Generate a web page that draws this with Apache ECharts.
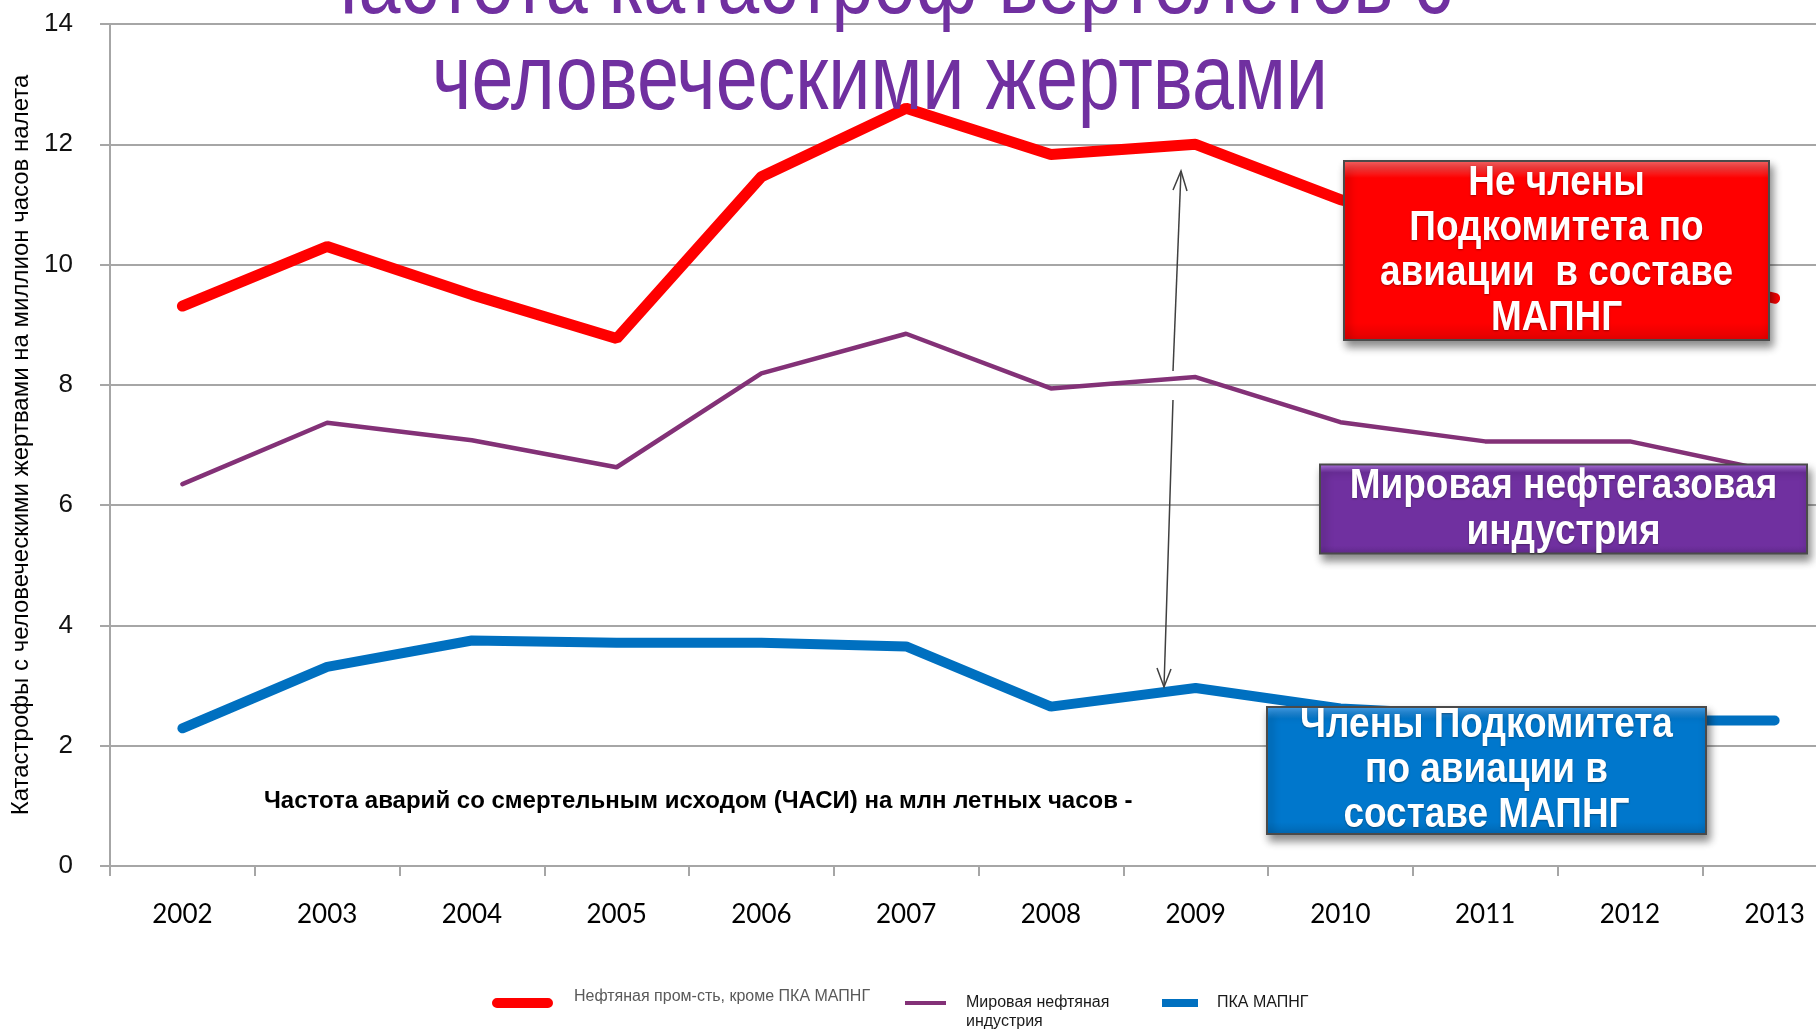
<!DOCTYPE html>
<html>
<head>
<meta charset="utf-8">
<title>Частота катастроф вертолетов</title>
<script src="https://cdn.jsdelivr.net/npm/echarts@6/dist/echarts.min.js"></script>
<style>
	html, body { margin: 0; padding: 0; background: #fff; }
	#chart { width: 1816px; height: 1032px; }
</style>
</head>
<body>
<div id="chart"></div>
<script>
/*данные*/
var years = ["2002", "2003", "2004", "2005", "2006", "2007", "2008", "2009", "2010", "2011", "2012", "2013"];
var yTicks = [0, 2, 4, 6, 8, 10, 12, 14];
var nonMembers = [9.31, 10.3, 9.5, 8.77, 11.46, 12.6, 11.83, 12.0, 11.08, 10.5, 10.0, 9.44];
var worldIndustry = [6.35, 7.37, 7.08, 6.63, 8.19, 8.85, 7.94, 8.13, 7.38, 7.06, 7.06, 6.55];
var members = [2.29, 3.31, 3.75, 3.71, 3.71, 3.65, 2.65, 2.96, 2.62, 2.5, 2.42, 2.42];
var seriesNames = ["Нефтяная пром-сть, кроме ПКА МАПНГ", "Мировая нефтяная\nиндустрия", "ПКА МАПНГ"];

var sans = "'Liberation Sans', Arial, sans-serif";

/*плашка с подписью*/
function labelBox(x, y, w, h, light, base, dark, text, lineH) {
	return {
		type: "group",
		left: x,
		top: y,
		z: 100,
		children: [{
			type: "rect",
			z: 100,
			shape: { x: 0, y: 0, width: w, height: h },
			style: {
				fill: {
					type: "linear", x: 0, y: 0, x2: 0, y2: 1,
					colorStops: [
						{ offset: 0, color: light },
						{ offset: 0.1, color: base },
						{ offset: 0.9, color: base },
						{ offset: 1, color: dark }
					]
				},
				stroke: "#4a4a4a",
				lineWidth: 2,
				shadowBlur: 8,
				shadowOffsetX: 3,
				shadowOffsetY: 6,
				shadowColor: "rgba(0,0,0,0.45)"
			}
		}, {
			type: "text",
			z: 101,
			x: w / 2,
			y: h / 2,
			scaleX: 0.88,
			style: {
				x: 0,
				y: 0,
				text: text,
				align: "center",
				verticalAlign: "middle",
				fill: "#fff",
				font: "bold 42px " + sans,
				lineHeight: lineH,
				textShadowColor: "rgba(0,0,0,0.35)",
				textShadowBlur: 2,
				textShadowOffsetY: 1
			}
		}]
	};
}

/*легенда: по одной на серию, значок со смещением внутри рамки*/
function legendItem(name, left, top, icon, w, h, color, padLeft, lineH) {
	return {
		data: [name],
		left: left,
		top: top,
		padding: 0,
		icon: icon,
		itemWidth: w,
		itemHeight: h,
		selectedMode: false,
		textStyle: {
			fontFamily: sans,
			fontSize: 16,
			color: color,
			padding: [0, 0, 0, padLeft],
			lineHeight: lineH
		}
	};
}

var chart = echarts.init(document.getElementById("chart"));
var option = {
	animation: false,
	backgroundColor: "#fff",
	grid: {
		left: 110,
		right: -31,
		top: 24,
		bottom: 166,
		containLabel: false,
		outerBoundsMode: "none"
	},
	legend: [
		legendItem(seriesNames[0], 492, 986, "path://M0,0L0.01,0M5,12L56,12A5,5 0 0 1 56,22L5,22A5,5 0 0 1 5,12Z", 61, 22, "#595959", 16, 20),
		legendItem(seriesNames[1], 905, 993, "path://M0,0L41,0L41,4L0,4ZM0,22L0.01,22", 41, 22, "#1a1a1a", 15, 19),
		legendItem(seriesNames[2], 1162, 993, "rect", 36, 8, "#1a1a1a", 14, 20)
	],
	xAxis: {
		type: "category",
		data: years,
		boundaryGap: true,
		axisLine: { lineStyle: { color: "#A6A6A6", width: 2 } },
		axisTick: { show: true, interval: 0, length: 10, lineStyle: { color: "#A6A6A6", width: 2 } },
		axisLabel: {
			fontFamily: "Lato, 'Open Sans', sans-serif",
			fontSize: 26,
			color: "#000",
			margin: 36,
			interval: 0
		}
	},
	yAxis: {
		type: "value",
		min: yTicks[0],
		max: yTicks[yTicks.length - 1],
		interval: 2,
		name: "Катастрофы с человеческими жертвами на миллион часов налета",
		nameLocation: "middle",
		nameRotate: 90,
		nameGap: 77,
		nameTextStyle: { fontFamily: sans, fontSize: 24, color: "#000" },
		axisLine: { show: true, lineStyle: { color: "#A6A6A6", width: 2 } },
		axisTick: { show: true, length: 10, lineStyle: { color: "#A6A6A6", width: 2 } },
		axisLabel: { fontFamily: sans, fontSize: 26, color: "#111", margin: 37 },
		splitLine: { lineStyle: { color: "#A6A6A6", width: 2 } }
	},
	series: [{
		name: seriesNames[0],
		type: "line",
		data: nonMembers,
		symbol: "none",
		color: "#FF0000",
		lineStyle: { width: 11, cap: "round", color: "#FF0000" }
	}, {
		name: seriesNames[1],
		type: "line",
		data: worldIndustry,
		symbol: "none",
		color: "#833177",
		lineStyle: { width: 4.5, cap: "round", color: "#833177" }
	}, {
		name: seriesNames[2],
		type: "line",
		data: members,
		symbol: "none",
		color: "#0070C0",
		lineStyle: { width: 10, cap: "round", color: "#0070C0" }
	}],
	graphic: [
		/*заголовок, узкое начертание через scaleX*/
		{
			type: "text",
			x: 880,
			y: -60,
			scaleX: 0.82,
			z: 40,
			style: {
				x: 0,
				y: 0,
				text: "Частота катастроф вертолетов с\nчеловеческими жертвами",
				align: "center",
				verticalAlign: "top",
				font: "92px " + sans,
				lineHeight: 96,
				fill: "#7030A0"
			}
		},
		/*подпись внутри графика*/
		{
			type: "text",
			left: 264,
			top: 789,
			z: 50,
			style: {
				text: "Частота аварий со смертельным исходом (ЧАСИ) на млн летных часов -",
				font: "bold 24px " + sans,
				fill: "#000"
			}
		},
		/*стрелки*/
		{
			type: "line",
			z: 60,
			shape: { x1: 1173, y1: 371, x2: 1181, y2: 171 },
			style: { stroke: "#404040", lineWidth: 1.5 }
		},
		{
			type: "polyline",
			z: 60,
			shape: { points: [[1173, 190], [1181, 171], [1187, 191]] },
			style: { stroke: "#404040", lineWidth: 1.5, fill: null }
		},
		{
			type: "line",
			z: 60,
			shape: { x1: 1173, y1: 400, x2: 1164, y2: 687 },
			style: { stroke: "#404040", lineWidth: 1.5 }
		},
		{
			type: "polyline",
			z: 60,
			shape: { points: [[1157, 668], [1164, 687], [1171, 669]] },
			style: { stroke: "#404040", lineWidth: 1.5, fill: null }
		},
		labelBox(1343, 160, 425, 179, "#FF6A6A", "#FF0000", "#E00000", "Не члены\nПодкомитета по\nавиации  в составе\nМАПНГ", 45),
		labelBox(1319, 463, 487, 89, "#B57BE8", "#7030A0", "#612A8C", "Мировая нефтегазовая\nиндустрия", 46),
		labelBox(1266, 703, 439, 127, "#4AA5F0", "#0077CC", "#0066B0", "Члены Подкомитета\nпо авиации в\nсоставе МАПНГ", 45)
	]
};
chart.setOption(option);
</script>
</body>
</html>
